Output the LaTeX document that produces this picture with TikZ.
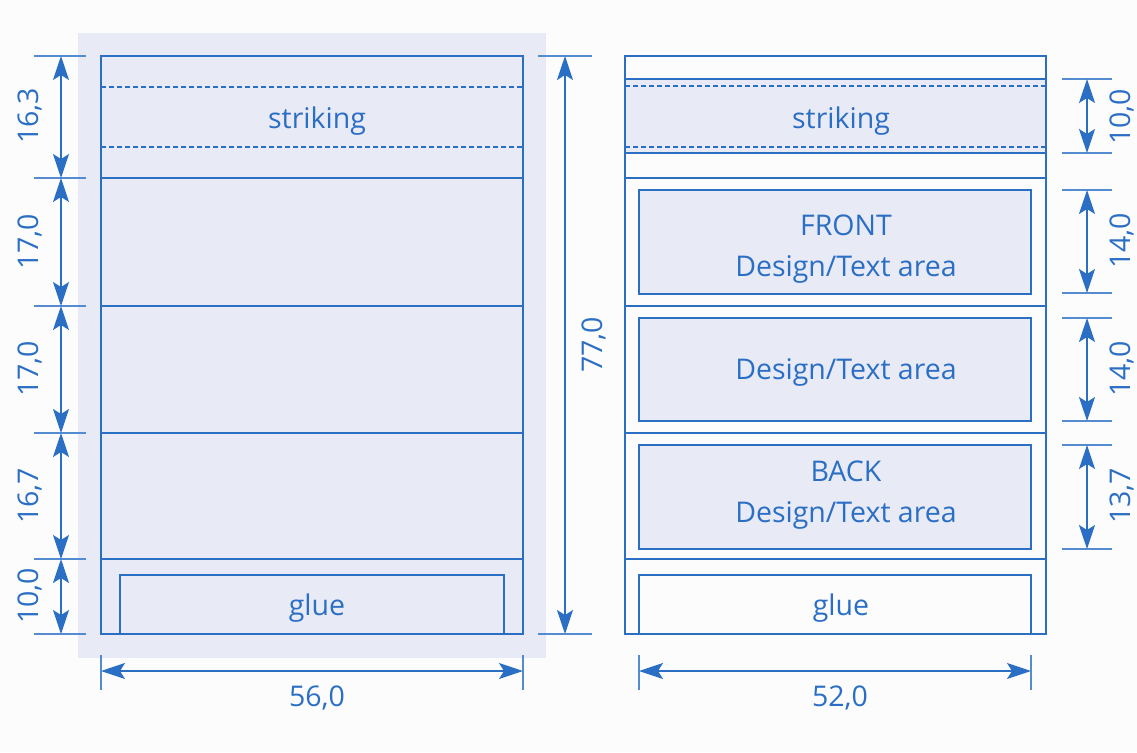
\documentclass[tikz,border=0pt]{standalone}
\usepackage{fontspec}
\setmainfont{Open Sans}
\usetikzlibrary{arrows.meta}
\definecolor{ln}{HTML}{2B6FC5}
\definecolor{lt}{HTML}{E8EAF6}
\definecolor{bgc}{HTML}{FCFCFD}
\tikzset{
  frame/.style={draw=ln, line width=2.2pt},
  thin/.style={draw=ln, line width=1.2pt},
  mid/.style={draw=ln, line width=1.8pt},
  dsh/.style={draw=ln, line width=1.2pt, dash pattern=on 5pt off 3pt},
  ext/.style={draw=ln!80, line width=1.5pt},
  dim/.style={draw=ln, line width=1.5pt, {Stealth[length=24pt,width=16pt,inset=5pt]}-{Stealth[length=24pt,width=16pt,inset=5pt]}},
  lbl/.style={text=ln, font=\fontsize{28.5}{41}\selectfont, inner sep=0pt},
  dl/.style={text=ln, font=\fontsize{28.5}{34}\selectfont, inner sep=0pt},
}
\begin{document}
\begin{tikzpicture}[x=1pt,y=-1pt]
\useasboundingbox (0,0) rectangle (1137,752);
\fill[bgc] (0,0) rectangle (1137,752);
% ===== left panel =====
\fill[lt] (78,33) rectangle (546,658);
\draw[dsh] (101,87) -- (523,87);
\draw[dsh] (101,147) -- (523,147);
\draw[thin] (101,178) -- (523,178);
\draw[thin] (101,306) -- (523,306);
\draw[mid] (101,433) -- (523,433);
\draw[mid] (101,559) -- (523,559);
\draw[mid] (120,634) -- (120,575) -- (504,575) -- (504,634);
\draw[frame] (101,56) rectangle (523,634);
\node[lbl] (ls) at (317,121) {striking};
\node[lbl] (lg) at (317,608) {glue};
% left dims
\foreach \y in {56,178,306,433,559,634} \draw[ext] (34,\y) -- (86,\y);
\coordinate (a0) at (61,56);
\coordinate (a1) at (61,178);
\coordinate (a2) at (61,306);
\coordinate (a3) at (61,433);
\coordinate (a4) at (61,559);
\coordinate (a5) at (61,634);
\draw[dim] (a0) -- (a1);
\draw[dim] (a1) -- (a2);
\draw[dim] (a2) -- (a3);
\draw[dim] (a3) -- (a4);
\draw[dim] (a4) -- (a5);
\node[dl, rotate=90] (d1) at (30,116) {16,3};
\node[dl, rotate=90] (d2) at (30,242) {17,0};
\node[dl, rotate=90] (d3) at (30,369) {17,0};
\node[dl, rotate=90] (d4) at (30,496) {16,7};
\node[dl, rotate=90] (d5) at (30,596) {10,0};
% total height
\draw[ext] (538,56) -- (592,56);
\draw[ext] (538,634) -- (592,634);
\coordinate (t0) at (565,56);
\coordinate (t1) at (565,634);
\draw[dim] (t0) -- (t1);
\node[dl, rotate=90] (d77) at (594,345) {77,0};
% width left
\draw[ext] (101,655) -- (101,690);
\draw[ext] (523,655) -- (523,690);
\coordinate (w0) at (101,671);
\coordinate (w1) at (523,671);
\draw[dim] (w0) -- (w1);
\node[dl] (d56) at (317,698) {56,0};
% ===== right panel =====
\fill[lt] (625,79) rectangle (1046,153);
\draw[thin] (625,79) -- (1046,79);
\draw[thin] (625,153) -- (1046,153);
\draw[dsh] (625,86) -- (1046,86);
\draw[dsh] (625,147) -- (1046,147);
\draw[thin] (625,178) -- (1046,178);
\draw[thin] (625,306) -- (1046,306);
\draw[mid] (625,433) -- (1046,433);
\draw[mid] (625,559) -- (1046,559);
\draw[thin, fill=lt] (639,190) rectangle (1031,294);
\draw[thin, fill=lt] (639,318) rectangle (1031,421);
\draw[thin, fill=lt] (639,445) rectangle (1031,549);
\draw[mid] (639,634) -- (639,575) -- (1031,575) -- (1031,634);
\draw[frame] (625,56) rectangle (1046,634);
\node[lbl] (rs) at (841,121) {striking};
\node[lbl, align=center] (rf) at (846,249) {FRONT\\Design/Text area};
\node[lbl] (rm) at (846,372) {Design/Text area};
\node[lbl, align=center] (rb) at (846,495) {BACK\\Design/Text area};
\node[lbl] (rg) at (841,608) {glue};
% right dims
\foreach \y in {79,153,190,293,318,421,445,549} \draw[ext] (1062,\y) -- (1112,\y);
\coordinate (b0) at (1087,79);
\coordinate (b1) at (1087,153);
\coordinate (b2) at (1087,190);
\coordinate (b3) at (1087,293);
\coordinate (b4) at (1087,318);
\coordinate (b5) at (1087,421);
\coordinate (b6) at (1087,445);
\coordinate (b7) at (1087,549);
\draw[dim] (b0) -- (b1);
\draw[dim] (b2) -- (b3);
\draw[dim] (b4) -- (b5);
\draw[dim] (b6) -- (b7);
\node[dl, rotate=90] (e1) at (1122,117) {10,0};
\node[dl, rotate=90] (e2) at (1122,241) {14,0};
\node[dl, rotate=90] (e3) at (1122,369) {14,0};
\node[dl, rotate=90] (e4) at (1122,496) {13,7};
% width right
\draw[ext] (639,655) -- (639,690);
\draw[ext] (1031,655) -- (1031,690);
\coordinate (v0) at (639,671);
\coordinate (v1) at (1031,671);
\draw[dim] (v0) -- (v1);
\node[dl] (d52) at (840,698) {52,0};
\end{tikzpicture}
\end{document}
